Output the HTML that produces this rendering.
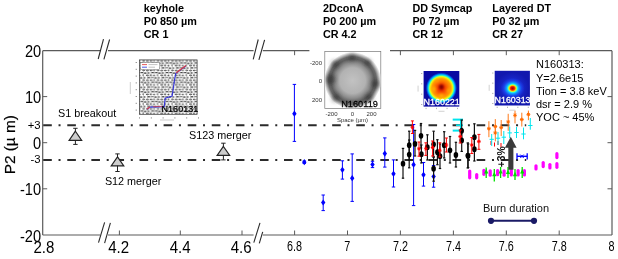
<!DOCTYPE html>
<html><head><meta charset="utf-8"><title>P2 vs time</title>
<style>html,body{margin:0;padding:0;background:#fff;}svg{display:block;opacity:0.999;will-change:transform;font-family:"Liberation Sans",sans-serif;}</style>
</head><body>
<svg width="618" height="259" viewBox="0 0 618 259">
<rect width="618" height="259" fill="#fff"/>
<defs>
<pattern id="grid" width="14.4" height="9.6" patternUnits="userSpaceOnUse"><rect width="14.4" height="9.6" fill="#fff"/><rect x="-3.81" y="0.47" width="2.2" height="1.0" fill="#222"/><rect x="-0.21" y="0.46" width="1.6" height="1.0" fill="#111"/><rect x="3.39" y="0.18" width="2.6" height="1.2" fill="#333"/><rect x="6.99" y="0.26" width="2.6" height="0.9" fill="#555"/><rect x="10.59" y="0.45" width="2.2" height="1.2" fill="#333"/><rect x="14.19" y="0.37" width="2.6" height="0.9" fill="#111"/><rect x="17.79" y="0.22" width="2.2" height="0.9" fill="#111"/><rect x="-1.54" y="2.74" width="2.6" height="1.0" fill="#555"/><rect x="2.06" y="2.79" width="2.6" height="1.2" fill="#555"/><rect x="5.66" y="2.85" width="2.6" height="0.9" fill="#333"/><rect x="9.26" y="2.70" width="1.6" height="1.0" fill="#333"/><rect x="12.86" y="2.67" width="2.6" height="1.0" fill="#222"/><rect x="16.46" y="2.73" width="2.6" height="1.0" fill="#555"/><rect x="-3.45" y="5.30" width="1.6" height="1.2" fill="#222"/><rect x="0.15" y="5.29" width="2.2" height="1.2" fill="#222"/><rect x="3.75" y="5.15" width="1.6" height="1.2" fill="#333"/><rect x="7.35" y="4.95" width="2.6" height="1.0" fill="#222"/><rect x="10.95" y="5.04" width="2.6" height="0.9" fill="#111"/><rect x="14.55" y="4.91" width="2.6" height="1.0" fill="#333"/><rect x="-1.58" y="7.54" width="1.6" height="0.9" fill="#111"/><rect x="2.02" y="7.52" width="2.6" height="1.0" fill="#222"/><rect x="5.62" y="7.42" width="2.2" height="0.9" fill="#111"/><rect x="9.22" y="7.68" width="1.6" height="1.0" fill="#111"/><rect x="12.82" y="7.36" width="2.6" height="0.9" fill="#222"/><rect x="16.42" y="7.44" width="2.6" height="0.9" fill="#222"/><rect x="2.95" y="0" width="0.5" height="9.6" fill="#999"/><rect x="6.55" y="0" width="0.5" height="9.6" fill="#999"/><rect x="10.15" y="0" width="0.5" height="9.6" fill="#999"/><rect x="13.75" y="0" width="0.5" height="9.6" fill="#999"/></pattern>
<clipPath id="c2d"><rect x="325.2" y="52" width="55.2" height="56.2"/></clipPath>
<filter id="bl" x="-50%" y="-50%" width="200%" height="200%"><feGaussianBlur stdDeviation="2.2"/></filter><radialGradient id="g2d"><stop offset="0" stop-color="#c2c2c2"/><stop offset="0.45" stop-color="#b2b2b2"/><stop offset="0.62" stop-color="#8c8c8c"/><stop offset="0.76" stop-color="#5e5e5e"/><stop offset="0.84" stop-color="#6a6a6a"/><stop offset="0.93" stop-color="#c0c0c0"/><stop offset="1" stop-color="#fff"/></radialGradient>
<filter id="bl2" x="-50%" y="-50%" width="200%" height="200%"><feGaussianBlur stdDeviation="1.1"/></filter><radialGradient id="gdd"><stop offset="0" stop-color="#c01000"/><stop offset="0.2" stop-color="#f03800"/><stop offset="0.45" stop-color="#ff7800"/><stop offset="0.6" stop-color="#ff9c00"/><stop offset="0.68" stop-color="#ffd000"/><stop offset="0.74" stop-color="#e0ff20"/><stop offset="0.79" stop-color="#60ff90"/><stop offset="0.85" stop-color="#00d0ff"/><stop offset="0.93" stop-color="#0050e0"/><stop offset="1" stop-color="#0909a2"/></radialGradient>
<radialGradient id="gdt0"><stop offset="0" stop-color="#1a30e0"/><stop offset="0.5" stop-color="#1828cc"/><stop offset="1" stop-color="#1218ae"/></radialGradient><radialGradient id="gdt"><stop offset="0" stop-color="#a00000"/><stop offset="0.12" stop-color="#d81000"/><stop offset="0.2" stop-color="#ff4000"/><stop offset="0.27" stop-color="#ffd000"/><stop offset="0.33" stop-color="#b0ff50"/><stop offset="0.4" stop-color="#20f0e8"/><stop offset="0.5" stop-color="#10a0ff"/><stop offset="0.7" stop-color="#1a48ec"/><stop offset="1" stop-color="#1a30e0" stop-opacity="0"/></radialGradient>
</defs>
<line x1="42.7" y1="50.7" x2="100.2" y2="50.7" stroke="#5a5a5a" stroke-width="1.2" />
<line x1="108.0" y1="50.7" x2="253.6" y2="50.7" stroke="#5a5a5a" stroke-width="1.2" />
<line x1="262.8" y1="50.7" x2="612.0" y2="50.7" stroke="#5a5a5a" stroke-width="1.2" />
<line x1="42.7" y1="235.0" x2="100.2" y2="235.0" stroke="#5a5a5a" stroke-width="1.2" />
<line x1="108.0" y1="235.0" x2="253.6" y2="235.0" stroke="#5a5a5a" stroke-width="1.2" />
<line x1="262.8" y1="235.0" x2="612.0" y2="235.0" stroke="#5a5a5a" stroke-width="1.2" />
<line x1="42.7" y1="50.7" x2="42.7" y2="235.0" stroke="#5a5a5a" stroke-width="1.2" />
<line x1="612.0" y1="50.7" x2="612.0" y2="235.0" stroke="#5a5a5a" stroke-width="1.2" />
<line x1="98.2" y1="59.0" x2="103.5" y2="39.1" stroke="#2a2a2a" stroke-width="1.1" />
<line x1="103.9" y1="59.4" x2="109.6" y2="39.5" stroke="#2a2a2a" stroke-width="1.1" />
<line x1="253.2" y1="59.4" x2="258.2" y2="39.5" stroke="#2a2a2a" stroke-width="1.1" />
<line x1="258.9" y1="59.8" x2="264.6" y2="39.8" stroke="#2a2a2a" stroke-width="1.1" />
<line x1="98.5" y1="242.7" x2="104.6" y2="222.4" stroke="#2a2a2a" stroke-width="1.1" />
<line x1="104.6" y1="243.1" x2="110.4" y2="222.8" stroke="#2a2a2a" stroke-width="1.1" />
<line x1="253.8" y1="242.7" x2="260.0" y2="222.8" stroke="#2a2a2a" stroke-width="1.1" />
<line x1="259.3" y1="243.4" x2="262.7" y2="231.9" stroke="#2a2a2a" stroke-width="1.1" />
<line x1="119.4" y1="235.0" x2="119.4" y2="230.5" stroke="#5a5a5a" stroke-width="1" />
<line x1="180.3" y1="235.0" x2="180.3" y2="230.5" stroke="#5a5a5a" stroke-width="1" />
<line x1="242.0" y1="235.0" x2="242.0" y2="230.5" stroke="#5a5a5a" stroke-width="1" />
<line x1="294.6" y1="235.0" x2="294.6" y2="230.5" stroke="#5a5a5a" stroke-width="1" />
<line x1="347.5" y1="235.0" x2="347.5" y2="230.5" stroke="#5a5a5a" stroke-width="1" />
<line x1="400.4" y1="235.0" x2="400.4" y2="230.5" stroke="#5a5a5a" stroke-width="1" />
<line x1="453.4" y1="235.0" x2="453.4" y2="230.5" stroke="#5a5a5a" stroke-width="1" />
<line x1="506.3" y1="235.0" x2="506.3" y2="230.5" stroke="#5a5a5a" stroke-width="1" />
<line x1="559.2" y1="235.0" x2="559.2" y2="230.5" stroke="#5a5a5a" stroke-width="1" />
<line x1="294.6" y1="50.7" x2="294.6" y2="55.2" stroke="#5a5a5a" stroke-width="1" />
<line x1="347.5" y1="50.7" x2="347.5" y2="55.2" stroke="#5a5a5a" stroke-width="1" />
<line x1="400.4" y1="50.7" x2="400.4" y2="55.2" stroke="#5a5a5a" stroke-width="1" />
<line x1="453.4" y1="50.7" x2="453.4" y2="55.2" stroke="#5a5a5a" stroke-width="1" />
<line x1="506.3" y1="50.7" x2="506.3" y2="55.2" stroke="#5a5a5a" stroke-width="1" />
<line x1="559.2" y1="50.7" x2="559.2" y2="55.2" stroke="#5a5a5a" stroke-width="1" />
<line x1="42.7" y1="96.6" x2="47.2" y2="96.6" stroke="#5a5a5a" stroke-width="1" />
<line x1="612.0" y1="96.6" x2="607.5" y2="96.6" stroke="#5a5a5a" stroke-width="1" />
<line x1="42.7" y1="142.7" x2="47.2" y2="142.7" stroke="#5a5a5a" stroke-width="1" />
<line x1="612.0" y1="142.7" x2="607.5" y2="142.7" stroke="#5a5a5a" stroke-width="1" />
<line x1="42.7" y1="188.8" x2="47.2" y2="188.8" stroke="#5a5a5a" stroke-width="1" />
<line x1="612.0" y1="188.8" x2="607.5" y2="188.8" stroke="#5a5a5a" stroke-width="1" />
<line x1="43.2" y1="125.2" x2="526.2" y2="125.2" stroke="#2b2b2b" stroke-width="2.0" stroke-dasharray="8.6 6.74 2 6.74"/>
<line x1="43.2" y1="160.0" x2="526.2" y2="160.0" stroke="#2b2b2b" stroke-width="2.0" stroke-dasharray="8.6 6.74 2 6.74"/>
<line x1="75.4" y1="128.3" x2="75.4" y2="144.4" stroke="#222" stroke-width="1" />
<line x1="73.2" y1="128.3" x2="77.6" y2="128.3" stroke="#222" stroke-width="1" />
<line x1="73.2" y1="144.4" x2="77.6" y2="144.4" stroke="#222" stroke-width="1" />
<polygon points="75.4,131.2 69.10000000000001,140.3 81.7,140.3" fill="#cdcdcd" stroke="#222" stroke-width="1.15"/>
<line x1="117.5" y1="153.9" x2="117.5" y2="171.5" stroke="#222" stroke-width="1" />
<line x1="115.3" y1="153.9" x2="119.7" y2="153.9" stroke="#222" stroke-width="1" />
<line x1="115.3" y1="171.5" x2="119.7" y2="171.5" stroke="#222" stroke-width="1" />
<polygon points="117.5,156.8 111.2,165.8 123.8,165.8" fill="#cdcdcd" stroke="#222" stroke-width="1.15"/>
<line x1="223.4" y1="143.2" x2="223.4" y2="159.9" stroke="#222" stroke-width="1" />
<line x1="221.2" y1="143.2" x2="225.6" y2="143.2" stroke="#222" stroke-width="1" />
<line x1="221.2" y1="159.9" x2="225.6" y2="159.9" stroke="#222" stroke-width="1" />
<polygon points="223.4,146.4 217.1,155.4 229.70000000000002,155.4" fill="#cdcdcd" stroke="#222" stroke-width="1.15"/>
<line x1="294.4" y1="84.4" x2="294.4" y2="141.4" stroke="#0000ff" stroke-width="1" />
<line x1="292.7" y1="84.4" x2="296.1" y2="84.4" stroke="#0000ff" stroke-width="1" />
<line x1="292.7" y1="141.4" x2="296.1" y2="141.4" stroke="#0000ff" stroke-width="1" />
<polygon points="294.4,110.60000000000001 296.59999999999997,113.7 294.4,116.8 292.2,113.7" fill="#0000ff"/>
<line x1="304.3" y1="161.0" x2="304.3" y2="163.4" stroke="#0000ff" stroke-width="1" />
<line x1="302.6" y1="161.0" x2="306.0" y2="161.0" stroke="#0000ff" stroke-width="1" />
<line x1="302.6" y1="163.4" x2="306.0" y2="163.4" stroke="#0000ff" stroke-width="1" />
<polygon points="304.3,159.1 306.5,162.2 304.3,165.29999999999998 302.1,162.2" fill="#0000ff"/>
<line x1="323.2" y1="195.0" x2="323.2" y2="210.6" stroke="#0000ff" stroke-width="1" />
<line x1="321.5" y1="195.0" x2="324.9" y2="195.0" stroke="#0000ff" stroke-width="1" />
<line x1="321.5" y1="210.6" x2="324.9" y2="210.6" stroke="#0000ff" stroke-width="1" />
<polygon points="323.2,199.4 325.4,202.5 323.2,205.6 321.0,202.5" fill="#0000ff"/>
<line x1="342.4" y1="160.8" x2="342.4" y2="179.1" stroke="#0000ff" stroke-width="1" />
<line x1="340.7" y1="160.8" x2="344.1" y2="160.8" stroke="#0000ff" stroke-width="1" />
<line x1="340.7" y1="179.1" x2="344.1" y2="179.1" stroke="#0000ff" stroke-width="1" />
<polygon points="342.4,166.70000000000002 344.59999999999997,169.8 342.4,172.9 340.2,169.8" fill="#0000ff"/>
<line x1="352.2" y1="153.9" x2="352.2" y2="201.4" stroke="#0000ff" stroke-width="1" />
<line x1="350.5" y1="153.9" x2="353.9" y2="153.9" stroke="#0000ff" stroke-width="1" />
<line x1="350.5" y1="201.4" x2="353.9" y2="201.4" stroke="#0000ff" stroke-width="1" />
<polygon points="352.2,175.1 354.4,178.2 352.2,181.29999999999998 350.0,178.2" fill="#0000ff"/>
<line x1="372.5" y1="161.3" x2="372.5" y2="167.6" stroke="#0000ff" stroke-width="1" />
<line x1="370.8" y1="161.3" x2="374.2" y2="161.3" stroke="#0000ff" stroke-width="1" />
<line x1="370.8" y1="167.6" x2="374.2" y2="167.6" stroke="#0000ff" stroke-width="1" />
<polygon points="372.5,161.4 374.7,164.5 372.5,167.6 370.3,164.5" fill="#0000ff"/>
<line x1="384.8" y1="137.9" x2="384.8" y2="167.1" stroke="#0000ff" stroke-width="1" />
<line x1="383.1" y1="137.9" x2="386.5" y2="137.9" stroke="#0000ff" stroke-width="1" />
<line x1="383.1" y1="167.1" x2="386.5" y2="167.1" stroke="#0000ff" stroke-width="1" />
<polygon points="384.8,150.5 387.0,153.6 384.8,156.7 382.6,153.6" fill="#0000ff"/>
<line x1="393.5" y1="159.9" x2="393.5" y2="187.0" stroke="#0000ff" stroke-width="1" />
<line x1="391.8" y1="159.9" x2="395.2" y2="159.9" stroke="#0000ff" stroke-width="1" />
<line x1="391.8" y1="187.0" x2="395.2" y2="187.0" stroke="#0000ff" stroke-width="1" />
<polygon points="393.5,170.70000000000002 395.7,173.8 393.5,176.9 391.3,173.8" fill="#0000ff"/>
<line x1="413.6" y1="124.5" x2="413.6" y2="205.6" stroke="#0000ff" stroke-width="1" />
<line x1="411.9" y1="124.5" x2="415.3" y2="124.5" stroke="#0000ff" stroke-width="1" />
<line x1="411.9" y1="205.6" x2="415.3" y2="205.6" stroke="#0000ff" stroke-width="1" />
<polygon points="413.6,161.6 415.8,164.7 413.6,167.79999999999998 411.40000000000003,164.7" fill="#0000ff"/>
<line x1="423.5" y1="162.5" x2="423.5" y2="186.1" stroke="#0000ff" stroke-width="1" />
<line x1="421.8" y1="162.5" x2="425.2" y2="162.5" stroke="#0000ff" stroke-width="1" />
<line x1="421.8" y1="186.1" x2="425.2" y2="186.1" stroke="#0000ff" stroke-width="1" />
<polygon points="423.5,171.70000000000002 425.7,174.8 423.5,177.9 421.3,174.8" fill="#0000ff"/>
<line x1="433.6" y1="165.5" x2="433.6" y2="187.2" stroke="#0000ff" stroke-width="1" />
<line x1="431.9" y1="165.5" x2="435.3" y2="165.5" stroke="#0000ff" stroke-width="1" />
<line x1="431.9" y1="187.2" x2="435.3" y2="187.2" stroke="#0000ff" stroke-width="1" />
<polygon points="433.6,173.4 435.8,176.5 433.6,179.6 431.40000000000003,176.5" fill="#0000ff"/>
<line x1="452.7" y1="119.6" x2="463.0" y2="119.6" stroke="#00e5ee" stroke-width="2" />
<line x1="452.7" y1="130.6" x2="463.0" y2="130.6" stroke="#00e5ee" stroke-width="2" />
<line x1="456.0" y1="125.2" x2="463.0" y2="125.2" stroke="#00e5ee" stroke-width="1.6" />
<line x1="460.6" y1="119.6" x2="460.6" y2="130.6" stroke="#00e5ee" stroke-width="1.2" />
<line x1="403.0" y1="148.4" x2="403.0" y2="178.2" stroke="#111" stroke-width="1.2" />
<line x1="401.8" y1="148.4" x2="404.2" y2="148.4" stroke="#111" stroke-width="1.2" />
<line x1="401.8" y1="178.2" x2="404.2" y2="178.2" stroke="#111" stroke-width="1.2" />
<line x1="409.2" y1="131.2" x2="409.2" y2="160.0" stroke="#111" stroke-width="1.2" />
<line x1="408.0" y1="131.2" x2="410.4" y2="131.2" stroke="#111" stroke-width="1.2" />
<line x1="408.0" y1="160.0" x2="410.4" y2="160.0" stroke="#111" stroke-width="1.2" />
<line x1="409.2" y1="140.0" x2="409.2" y2="167.8" stroke="#111" stroke-width="1.2" />
<line x1="408.0" y1="140.0" x2="410.4" y2="140.0" stroke="#111" stroke-width="1.2" />
<line x1="408.0" y1="167.8" x2="410.4" y2="167.8" stroke="#111" stroke-width="1.2" />
<line x1="415.0" y1="130.4" x2="415.0" y2="156.0" stroke="#111" stroke-width="1.2" />
<line x1="413.8" y1="130.4" x2="416.2" y2="130.4" stroke="#111" stroke-width="1.2" />
<line x1="413.8" y1="156.0" x2="416.2" y2="156.0" stroke="#111" stroke-width="1.2" />
<line x1="421.0" y1="123.5" x2="421.0" y2="148.0" stroke="#111" stroke-width="1.2" />
<line x1="419.8" y1="123.5" x2="422.2" y2="123.5" stroke="#111" stroke-width="1.2" />
<line x1="419.8" y1="148.0" x2="422.2" y2="148.0" stroke="#111" stroke-width="1.2" />
<line x1="421.4" y1="145.0" x2="421.4" y2="163.0" stroke="#111" stroke-width="1.2" />
<line x1="420.2" y1="145.0" x2="422.6" y2="145.0" stroke="#111" stroke-width="1.2" />
<line x1="420.2" y1="163.0" x2="422.6" y2="163.0" stroke="#111" stroke-width="1.2" />
<line x1="427.4" y1="134.8" x2="427.4" y2="160.0" stroke="#111" stroke-width="1.2" />
<line x1="426.2" y1="134.8" x2="428.6" y2="134.8" stroke="#111" stroke-width="1.2" />
<line x1="426.2" y1="160.0" x2="428.6" y2="160.0" stroke="#111" stroke-width="1.2" />
<line x1="433.6" y1="131.2" x2="433.6" y2="157.0" stroke="#111" stroke-width="1.2" />
<line x1="432.4" y1="131.2" x2="434.8" y2="131.2" stroke="#111" stroke-width="1.2" />
<line x1="432.4" y1="157.0" x2="434.8" y2="157.0" stroke="#111" stroke-width="1.2" />
<line x1="433.6" y1="157.0" x2="433.6" y2="181.2" stroke="#111" stroke-width="1.2" />
<line x1="432.4" y1="157.0" x2="434.8" y2="157.0" stroke="#111" stroke-width="1.2" />
<line x1="432.4" y1="181.2" x2="434.8" y2="181.2" stroke="#111" stroke-width="1.2" />
<line x1="437.4" y1="139.7" x2="437.4" y2="164.7" stroke="#111" stroke-width="1.2" />
<line x1="436.2" y1="139.7" x2="438.6" y2="139.7" stroke="#111" stroke-width="1.2" />
<line x1="436.2" y1="164.7" x2="438.6" y2="164.7" stroke="#111" stroke-width="1.2" />
<line x1="440.0" y1="144.0" x2="440.0" y2="168.5" stroke="#111" stroke-width="1.2" />
<line x1="438.8" y1="144.0" x2="441.2" y2="144.0" stroke="#111" stroke-width="1.2" />
<line x1="438.8" y1="168.5" x2="441.2" y2="168.5" stroke="#111" stroke-width="1.2" />
<line x1="444.2" y1="131.7" x2="444.2" y2="158.0" stroke="#111" stroke-width="1.2" />
<line x1="443.0" y1="131.7" x2="445.4" y2="131.7" stroke="#111" stroke-width="1.2" />
<line x1="443.0" y1="158.0" x2="445.4" y2="158.0" stroke="#111" stroke-width="1.2" />
<line x1="450.0" y1="136.5" x2="450.0" y2="163.0" stroke="#111" stroke-width="1.2" />
<line x1="448.8" y1="136.5" x2="451.2" y2="136.5" stroke="#111" stroke-width="1.2" />
<line x1="448.8" y1="163.0" x2="451.2" y2="163.0" stroke="#111" stroke-width="1.2" />
<line x1="455.9" y1="142.3" x2="455.9" y2="167.0" stroke="#111" stroke-width="1.2" />
<line x1="454.7" y1="142.3" x2="457.1" y2="142.3" stroke="#111" stroke-width="1.2" />
<line x1="454.7" y1="167.0" x2="457.1" y2="167.0" stroke="#111" stroke-width="1.2" />
<line x1="461.7" y1="120.0" x2="461.7" y2="142.0" stroke="#111" stroke-width="1.2" />
<line x1="460.5" y1="120.0" x2="462.9" y2="120.0" stroke="#111" stroke-width="1.2" />
<line x1="460.5" y1="142.0" x2="462.9" y2="142.0" stroke="#111" stroke-width="1.2" />
<line x1="461.7" y1="129.0" x2="461.7" y2="151.4" stroke="#111" stroke-width="1.2" />
<line x1="460.5" y1="129.0" x2="462.9" y2="129.0" stroke="#111" stroke-width="1.2" />
<line x1="460.5" y1="151.4" x2="462.9" y2="151.4" stroke="#111" stroke-width="1.2" />
<line x1="467.8" y1="142.9" x2="467.8" y2="168.0" stroke="#111" stroke-width="1.2" />
<line x1="466.6" y1="142.9" x2="469.0" y2="142.9" stroke="#111" stroke-width="1.2" />
<line x1="466.6" y1="168.0" x2="469.0" y2="168.0" stroke="#111" stroke-width="1.2" />
<line x1="474.4" y1="123.8" x2="474.4" y2="150.0" stroke="#111" stroke-width="1.2" />
<line x1="473.2" y1="123.8" x2="475.6" y2="123.8" stroke="#111" stroke-width="1.2" />
<line x1="473.2" y1="150.0" x2="475.6" y2="150.0" stroke="#111" stroke-width="1.2" />
<line x1="474.4" y1="137.0" x2="474.4" y2="161.0" stroke="#111" stroke-width="1.2" />
<line x1="473.2" y1="137.0" x2="475.6" y2="137.0" stroke="#111" stroke-width="1.2" />
<line x1="473.2" y1="161.0" x2="475.6" y2="161.0" stroke="#111" stroke-width="1.2" />
<line x1="468.1" y1="144.0" x2="468.1" y2="167.5" stroke="#111" stroke-width="1.2" />
<line x1="466.9" y1="144.0" x2="469.3" y2="144.0" stroke="#111" stroke-width="1.2" />
<line x1="466.9" y1="167.5" x2="469.3" y2="167.5" stroke="#111" stroke-width="1.2" />
<ellipse cx="403" cy="163.7" rx="2.28" ry="2.88" fill="#000"/>
<ellipse cx="409.2" cy="145.2" rx="2.28" ry="2.88" fill="#000"/>
<ellipse cx="409.2" cy="154.6" rx="2.28" ry="2.88" fill="#000"/>
<ellipse cx="415" cy="143.9" rx="2.28" ry="2.88" fill="#000"/>
<ellipse cx="421" cy="135.8" rx="2.28" ry="2.88" fill="#000"/>
<ellipse cx="421.4" cy="154.2" rx="2.28" ry="2.88" fill="#000"/>
<ellipse cx="427.4" cy="147.2" rx="2.28" ry="2.88" fill="#000"/>
<ellipse cx="433.6" cy="144.3" rx="2.28" ry="2.88" fill="#000"/>
<ellipse cx="433.6" cy="168.7" rx="2.28" ry="2.88" fill="#000"/>
<ellipse cx="437.4" cy="152.2" rx="2.28" ry="2.88" fill="#000"/>
<ellipse cx="440" cy="156.2" rx="2.28" ry="2.88" fill="#000"/>
<ellipse cx="444.2" cy="145.2" rx="2.28" ry="2.88" fill="#000"/>
<ellipse cx="450" cy="150.3" rx="2.28" ry="2.88" fill="#000"/>
<ellipse cx="455.9" cy="155" rx="2.28" ry="2.88" fill="#000"/>
<ellipse cx="461.7" cy="130.8" rx="2.28" ry="2.88" fill="#000"/>
<ellipse cx="461.7" cy="140.4" rx="2.28" ry="2.88" fill="#000"/>
<ellipse cx="467.8" cy="155.6" rx="2.28" ry="2.88" fill="#000"/>
<ellipse cx="474.4" cy="137.2" rx="2.28" ry="2.88" fill="#000"/>
<ellipse cx="474.4" cy="149.2" rx="2.28" ry="2.88" fill="#000"/>
<ellipse cx="468.1" cy="155.9" rx="2.28" ry="2.88" fill="#000"/>
<line x1="412.4" y1="120.9" x2="412.4" y2="133.5" stroke="#ff0000" stroke-width="1" />
<line x1="410.9" y1="120.9" x2="413.9" y2="120.9" stroke="#ff0000" stroke-width="1" />
<line x1="410.9" y1="133.5" x2="413.9" y2="133.5" stroke="#ff0000" stroke-width="1" />
<path d="M410.59999999999997,127.3H414.2M412.4,125.5V129.1M411.14,126.03999999999999L413.65999999999997,128.56M411.14,128.56L413.65999999999997,126.03999999999999" stroke="#ff0000" stroke-width="1" fill="none"/>
<line x1="419.0" y1="142.0" x2="419.0" y2="156.2" stroke="#ff0000" stroke-width="1" />
<line x1="417.5" y1="142.0" x2="420.5" y2="142.0" stroke="#ff0000" stroke-width="1" />
<line x1="417.5" y1="156.2" x2="420.5" y2="156.2" stroke="#ff0000" stroke-width="1" />
<path d="M417.2,148.8H420.8M419,147.0V150.60000000000002M417.74,147.54000000000002L420.26,150.06M417.74,150.06L420.26,147.54000000000002" stroke="#ff0000" stroke-width="1" fill="none"/>
<line x1="425.9" y1="142.8" x2="425.9" y2="155.4" stroke="#ff0000" stroke-width="1" />
<line x1="424.4" y1="142.8" x2="427.4" y2="142.8" stroke="#ff0000" stroke-width="1" />
<line x1="424.4" y1="155.4" x2="427.4" y2="155.4" stroke="#ff0000" stroke-width="1" />
<path d="M424.09999999999997,148.7H427.7M425.9,146.89999999999998V150.5M424.64,147.44L427.15999999999997,149.95999999999998M424.64,149.95999999999998L427.15999999999997,147.44" stroke="#ff0000" stroke-width="1" fill="none"/>
<line x1="432.6" y1="141.0" x2="432.6" y2="156.0" stroke="#ff0000" stroke-width="1" />
<line x1="431.1" y1="141.0" x2="434.1" y2="141.0" stroke="#ff0000" stroke-width="1" />
<line x1="431.1" y1="156.0" x2="434.1" y2="156.0" stroke="#ff0000" stroke-width="1" />
<path d="M430.8,147.5H434.40000000000003M432.6,145.7V149.3M431.34000000000003,146.24L433.86,148.76M431.34000000000003,148.76L433.86,146.24" stroke="#ff0000" stroke-width="1" fill="none"/>
<line x1="439.8" y1="142.8" x2="439.8" y2="157.0" stroke="#ff0000" stroke-width="1" />
<line x1="438.3" y1="142.8" x2="441.3" y2="142.8" stroke="#ff0000" stroke-width="1" />
<line x1="438.3" y1="157.0" x2="441.3" y2="157.0" stroke="#ff0000" stroke-width="1" />
<path d="M438.0,150.2H441.6M439.8,148.39999999999998V152.0M438.54,148.94L441.06,151.45999999999998M438.54,151.45999999999998L441.06,148.94" stroke="#ff0000" stroke-width="1" fill="none"/>
<line x1="446.4" y1="138.0" x2="446.4" y2="152.0" stroke="#ff0000" stroke-width="1" />
<line x1="444.9" y1="138.0" x2="447.9" y2="138.0" stroke="#ff0000" stroke-width="1" />
<line x1="444.9" y1="152.0" x2="447.9" y2="152.0" stroke="#ff0000" stroke-width="1" />
<path d="M444.59999999999997,145H448.2M446.4,143.2V146.8M445.14,143.74L447.65999999999997,146.26M445.14,146.26L447.65999999999997,143.74" stroke="#ff0000" stroke-width="1" fill="none"/>
<line x1="460.2" y1="130.0" x2="460.2" y2="143.0" stroke="#ff0000" stroke-width="1" />
<line x1="458.7" y1="130.0" x2="461.7" y2="130.0" stroke="#ff0000" stroke-width="1" />
<line x1="458.7" y1="143.0" x2="461.7" y2="143.0" stroke="#ff0000" stroke-width="1" />
<path d="M458.4,136.5H462.0M460.2,134.7V138.3M458.94,135.24L461.46,137.76M458.94,137.76L461.46,135.24" stroke="#ff0000" stroke-width="1" fill="none"/>
<line x1="471.8" y1="137.6" x2="471.8" y2="153.5" stroke="#ff0000" stroke-width="1" />
<line x1="470.3" y1="137.6" x2="473.3" y2="137.6" stroke="#ff0000" stroke-width="1" />
<line x1="470.3" y1="153.5" x2="473.3" y2="153.5" stroke="#ff0000" stroke-width="1" />
<path d="M470.0,145H473.6M471.8,143.2V146.8M470.54,143.74L473.06,146.26M470.54,146.26L473.06,143.74" stroke="#ff0000" stroke-width="1" fill="none"/>
<line x1="478.9" y1="134.4" x2="478.9" y2="149.3" stroke="#ff0000" stroke-width="1" />
<line x1="477.4" y1="134.4" x2="480.4" y2="134.4" stroke="#ff0000" stroke-width="1" />
<line x1="477.4" y1="149.3" x2="480.4" y2="149.3" stroke="#ff0000" stroke-width="1" />
<path d="M477.09999999999997,141.4H480.7M478.9,139.6V143.20000000000002M477.64,140.14000000000001L480.15999999999997,142.66M477.64,142.66L480.15999999999997,140.14000000000001" stroke="#ff0000" stroke-width="1" fill="none"/>
<line x1="491.0" y1="141.0" x2="491.0" y2="145.0" stroke="#ff0000" stroke-width="1" />
<line x1="494.5" y1="142.5" x2="494.5" y2="146.5" stroke="#ff0000" stroke-width="1" />
<line x1="498.0" y1="141.0" x2="498.0" y2="145.0" stroke="#ff0000" stroke-width="1" />
<line x1="501.0" y1="143.0" x2="501.0" y2="147.0" stroke="#ff0000" stroke-width="1" />
<line x1="488.9" y1="121.2" x2="488.9" y2="137.2" stroke="#ff7a1a" stroke-width="1" />
<path d="M487.0,128.7H490.79999999999995M488.9,126.79999999999998V130.6M487.57,127.36999999999999L490.22999999999996,130.03M487.57,130.03L490.22999999999996,127.36999999999999" stroke="#ff6a00" stroke-width="1" fill="none"/>
<line x1="495.3" y1="119.1" x2="495.3" y2="134.0" stroke="#ff7a1a" stroke-width="1" />
<path d="M493.40000000000003,126.5H497.2M495.3,124.6V128.4M493.97,125.17L496.63,127.83M493.97,127.83L496.63,125.17" stroke="#ff6a00" stroke-width="1" fill="none"/>
<line x1="495.3" y1="126.0" x2="495.3" y2="141.4" stroke="#ff7a1a" stroke-width="1" />
<path d="M493.40000000000003,132.9H497.2M495.3,131.0V134.8M493.97,131.57L496.63,134.23000000000002M493.97,134.23000000000002L496.63,131.57" stroke="#ff6a00" stroke-width="1" fill="none"/>
<line x1="501.2" y1="120.0" x2="501.2" y2="136.0" stroke="#ff7a1a" stroke-width="1" />
<path d="M499.3,127.6H503.09999999999997M501.2,125.69999999999999V129.5M499.87,126.27L502.53,128.93M499.87,128.93L502.53,126.27" stroke="#ff6a00" stroke-width="1" fill="none"/>
<line x1="508.2" y1="113.8" x2="508.2" y2="130.8" stroke="#ff7a1a" stroke-width="1" />
<path d="M506.3,121.9H510.09999999999997M508.2,120.0V123.80000000000001M506.87,120.57000000000001L509.53,123.23M506.87,123.23L509.53,120.57000000000001" stroke="#ff6a00" stroke-width="1" fill="none"/>
<line x1="515.0" y1="110.6" x2="515.0" y2="123.4" stroke="#ff7a1a" stroke-width="1" />
<path d="M513.1,115.3H516.9M515,113.39999999999999V117.2M513.67,113.97L516.33,116.63M513.67,116.63L516.33,113.97" stroke="#ff6a00" stroke-width="1" fill="none"/>
<line x1="521.8" y1="112.7" x2="521.8" y2="126.5" stroke="#ff7a1a" stroke-width="1" />
<path d="M519.9,119.5H523.6999999999999M521.8,117.6V121.4M520.4699999999999,118.17L523.13,120.83M520.4699999999999,120.83L523.13,118.17" stroke="#ff6a00" stroke-width="1" fill="none"/>
<line x1="528.4" y1="110.6" x2="528.4" y2="120.2" stroke="#ff7a1a" stroke-width="1" />
<path d="M526.5,114.4H530.3M528.4,112.5V116.30000000000001M527.0699999999999,113.07000000000001L529.73,115.73M527.0699999999999,115.73L529.73,113.07000000000001" stroke="#ff6a00" stroke-width="1" fill="none"/>
<line x1="491.7" y1="134.0" x2="491.7" y2="146.0" stroke="#00e5ee" stroke-width="1" />
<line x1="489.5" y1="139.3" x2="493.9" y2="139.3" stroke="#00e5ee" stroke-width="1" />
<line x1="498.0" y1="132.0" x2="498.0" y2="145.0" stroke="#00e5ee" stroke-width="1" />
<line x1="495.8" y1="138.2" x2="500.2" y2="138.2" stroke="#00e5ee" stroke-width="1" />
<line x1="503.8" y1="131.0" x2="503.8" y2="144.0" stroke="#00e5ee" stroke-width="1" />
<line x1="501.6" y1="137.2" x2="506.0" y2="137.2" stroke="#00e5ee" stroke-width="1" />
<line x1="509.7" y1="126.5" x2="509.7" y2="138.2" stroke="#00e5ee" stroke-width="1" />
<line x1="507.5" y1="132.9" x2="511.9" y2="132.9" stroke="#00e5ee" stroke-width="1" />
<line x1="516.5" y1="127.0" x2="516.5" y2="138.0" stroke="#00e5ee" stroke-width="1" />
<line x1="514.3" y1="132.5" x2="518.7" y2="132.5" stroke="#00e5ee" stroke-width="1" />
<line x1="523.5" y1="127.6" x2="523.5" y2="139.3" stroke="#00e5ee" stroke-width="1" />
<line x1="521.3" y1="134.0" x2="525.7" y2="134.0" stroke="#00e5ee" stroke-width="1" />
<line x1="530.3" y1="118.0" x2="530.3" y2="129.7" stroke="#00e5ee" stroke-width="1" />
<line x1="528.1" y1="125.5" x2="532.5" y2="125.5" stroke="#00e5ee" stroke-width="1" />
<line x1="469.7" y1="171.10000000000002" x2="469.7" y2="177.79999999999998" stroke="#ff00ff" stroke-width="3.2" stroke-linecap="round"/>
<line x1="476.7" y1="174.60000000000002" x2="476.7" y2="177.79999999999998" stroke="#ff00ff" stroke-width="3.2" stroke-linecap="round"/>
<line x1="483.9" y1="170.4" x2="483.9" y2="174.29999999999998" stroke="#ff00ff" stroke-width="3.2" stroke-linecap="round"/>
<line x1="490.2" y1="170.8" x2="490.2" y2="175.2" stroke="#ff00ff" stroke-width="3.2" stroke-linecap="round"/>
<line x1="497.6" y1="170.60000000000002" x2="497.6" y2="174.7" stroke="#ff00ff" stroke-width="3.2" stroke-linecap="round"/>
<line x1="504.1" y1="170.8" x2="504.1" y2="175.2" stroke="#ff00ff" stroke-width="3.2" stroke-linecap="round"/>
<line x1="511.3" y1="170.60000000000002" x2="511.3" y2="175.0" stroke="#ff00ff" stroke-width="3.2" stroke-linecap="round"/>
<line x1="518.1" y1="170.60000000000002" x2="518.1" y2="175.0" stroke="#ff00ff" stroke-width="3.2" stroke-linecap="round"/>
<line x1="524.4" y1="170.60000000000002" x2="524.4" y2="175.0" stroke="#ff00ff" stroke-width="3.2" stroke-linecap="round"/>
<line x1="536" y1="165.8" x2="536" y2="169.0" stroke="#ff00ff" stroke-width="3.2" stroke-linecap="round"/>
<line x1="543.2" y1="162.5" x2="543.2" y2="166.6" stroke="#ff00ff" stroke-width="3.2" stroke-linecap="round"/>
<line x1="549.9" y1="164.60000000000002" x2="549.9" y2="168.0" stroke="#ff00ff" stroke-width="3.2" stroke-linecap="round"/>
<line x1="556.9" y1="153.70000000000002" x2="556.9" y2="157.6" stroke="#ff00ff" stroke-width="3.2" stroke-linecap="round"/>
<line x1="556.9" y1="163.70000000000002" x2="556.9" y2="167.29999999999998" stroke="#ff00ff" stroke-width="3.2" stroke-linecap="round"/>
<line x1="486.2" y1="167.5" x2="486.2" y2="177.9" stroke="#00e000" stroke-width="1.3" />
<polygon points="486.2,169.1 484.09999999999997,173.5 488.3,173.5" fill="#00e000"/>
<line x1="494.3" y1="169.0" x2="494.3" y2="181.4" stroke="#00e000" stroke-width="1.3" />
<polygon points="494.3,171.8 492.2,176.20000000000002 496.40000000000003,176.20000000000002" fill="#00e000"/>
<line x1="500.6" y1="167.0" x2="500.6" y2="178.0" stroke="#00e000" stroke-width="1.3" />
<polygon points="500.6,169.1 498.5,173.5 502.70000000000005,173.5" fill="#00e000"/>
<line x1="508.0" y1="167.0" x2="508.0" y2="178.0" stroke="#00e000" stroke-width="1.3" />
<polygon points="508,169.5 505.9,173.9 510.1,173.9" fill="#00e000"/>
<line x1="515.0" y1="169.0" x2="515.0" y2="180.0" stroke="#00e000" stroke-width="1.3" />
<polygon points="515,171.8 512.9,176.20000000000002 517.1,176.20000000000002" fill="#00e000"/>
<line x1="522.2" y1="167.0" x2="522.2" y2="178.0" stroke="#00e000" stroke-width="1.3" />
<polygon points="522.2,169.1 520.1,173.5 524.3000000000001,173.5" fill="#00e000"/>
<line x1="517.0" y1="156.3" x2="527.2" y2="156.3" stroke="#0000ff" stroke-width="1.4" />
<line x1="517.0" y1="153.2" x2="517.0" y2="159.6" stroke="#0000ff" stroke-width="1.3" />
<line x1="527.2" y1="153.2" x2="527.2" y2="159.6" stroke="#0000ff" stroke-width="1.3" />
<path d="M520.3,154.6L523.7,158M520.3,158L523.7,154.6" stroke="#0000ff" stroke-width="1"/>
<polygon points="510.8,136.8 516.6,147.8 513.4,147.8 513.4,169.8 508.3,169.8 508.3,147.8 504.9,147.8" fill="#3a3a3a"/>
<text transform="translate(504.5,167.2) rotate(-90)" font-size="10.3" font-weight="bold" fill="#111">+3%</text>
<line x1="491" y1="220.8" x2="534" y2="220.8" stroke="#1a1a66" stroke-width="2"/>
<circle cx="491" cy="220.8" r="3.1" fill="#1a1a66"/><circle cx="534" cy="220.8" r="3.1" fill="#1a1a66"/>
<text x="483" y="212" font-size="11" fill="#111">Burn duration</text>
<rect x="128" y="53" width="78" height="68" fill="#fff"/>
<rect x="139.5" y="59.9" width="57.6" height="54.4" fill="url(#grid)" stroke="#333" stroke-width="0.7"/>
<rect x="140.6" y="62.6" width="19" height="6.6" fill="#fff" stroke="#555" stroke-width="0.4"/>
<line x1="142" y1="64.6" x2="147" y2="64.6" stroke="#e03030" stroke-width="0.8"/><line x1="142" y1="67.2" x2="147" y2="67.2" stroke="#2030e0" stroke-width="0.8"/>
<line x1="148.5" y1="64.6" x2="157.5" y2="64.6" stroke="#999" stroke-width="0.6"/><line x1="148.5" y1="67.2" x2="155" y2="67.2" stroke="#999" stroke-width="0.6"/>
<polyline points="146.9,109.2 149.9,107.2 164.2,106.7 165.2,98.1 172.1,96.1 174.6,79.5 175.8,73.3 185.7,65.9" fill="none" stroke="#3535d8" stroke-width="1.2"/>
<polyline points="146.9,109 149.9,107" fill="none" stroke="#e04040" stroke-width="1.1"/>
<polyline points="153,106.7 163,106.3" fill="none" stroke="#e04040" stroke-width="0.7"/>
<polyline points="176.2,72.8 185.9,65.5" fill="none" stroke="#e04040" stroke-width="1.1"/>
<text transform="translate(161.6,112.4) scale(0.93,1)" font-size="9.7" fill="#000" stroke="#000" stroke-width="0.25">N160131</text>
<rect x="135.6" y="62.0" width="1.4" height="1" fill="#999"/>
<rect x="135.6" y="68.8" width="1.4" height="1" fill="#999"/>
<rect x="135.6" y="75.6" width="1.4" height="1" fill="#999"/>
<rect x="135.6" y="82.4" width="1.4" height="1" fill="#999"/>
<rect x="135.6" y="89.2" width="1.4" height="1" fill="#999"/>
<rect x="135.6" y="96.0" width="1.4" height="1" fill="#999"/>
<rect x="135.6" y="102.8" width="1.4" height="1" fill="#999"/>
<rect x="135.6" y="109.6" width="1.4" height="1" fill="#999"/>
<rect x="139.0" y="117.2" width="1" height="1.4" fill="#999"/>
<rect x="150.8" y="117.2" width="1" height="1.4" fill="#999"/>
<rect x="162.6" y="117.2" width="1" height="1.4" fill="#999"/>
<rect x="174.4" y="117.2" width="1" height="1.4" fill="#999"/>
<rect x="186.2" y="117.2" width="1" height="1.4" fill="#999"/>
<rect x="198.0" y="117.2" width="1" height="1.4" fill="#999"/>
<rect x="129.8" y="82" width="1" height="12" fill="#ccc"/><rect x="160" y="119.5" width="14" height="1" fill="#ccc"/>
<rect x="309.4" y="44" width="80.6" height="78" fill="#fff"/>
<rect x="324.8" y="51.6" width="56" height="57" fill="#fff" stroke="#777" stroke-width="0.7"/>
<g clip-path="url(#c2d)"><circle cx="352.6" cy="80.6" r="28.5" fill="url(#g2d)"/>
<g filter="url(#bl)" fill="#222" opacity="0.55"><circle cx="330.5" cy="79.5" r="5"/><circle cx="335" cy="64" r="3.6"/><circle cx="352" cy="57.5" r="3.2"/><circle cx="375.5" cy="84" r="4.2"/><circle cx="369" cy="98" r="3.8"/><circle cx="335.5" cy="98" r="3.6"/><circle cx="368" cy="62.5" r="3"/></g></g>
<text transform="translate(341.2,106.8) scale(0.95,1)" font-size="9.7" fill="#000" stroke="#000" stroke-width="0.25">N160119</text>
<text x="322" y="64.5" font-size="6" text-anchor="end" fill="#333">-200</text>
<text x="322" y="83.4" font-size="6" text-anchor="end" fill="#333">0</text>
<text x="322" y="102" font-size="6" text-anchor="end" fill="#333">200</text>
<text x="331.5" y="115.5" font-size="6" text-anchor="middle" fill="#333">-200</text>
<text x="352.5" y="115.5" font-size="6" text-anchor="middle" fill="#333">0</text>
<text x="371.5" y="115.5" font-size="6" text-anchor="middle" fill="#333">200</text>
<text x="352.5" y="122.3" font-size="6" text-anchor="middle" fill="#333">Space (µm)</text>
<rect x="423.6" y="71" width="35.7" height="35.6" fill="#0909a2"/>
<circle cx="441.4" cy="88.1" r="15.6" fill="url(#gdd)"/>
<g filter="url(#bl2)"><circle cx="441.4" cy="86.8" r="2.3" fill="#800000"/><circle cx="433.5" cy="89" r="2.6" fill="#ffb000" opacity="0.8"/><circle cx="441.5" cy="96" r="2.4" fill="#ffb000" opacity="0.8"/><circle cx="448.8" cy="90.5" r="2.2" fill="#ffa800" opacity="0.7"/><circle cx="437" cy="80.5" r="2" fill="#ffa000" opacity="0.6"/></g>
<text transform="translate(423.5,104.8) scale(0.985,1)" font-size="9.1" fill="#fff" stroke="#fff" stroke-width="0.3">N160221</text>
<rect x="494.7" y="70.8" width="35.2" height="34.7" fill="#1218ae"/>
<ellipse cx="512.4" cy="88" rx="17" ry="16" fill="url(#gdt0)"/>
<ellipse cx="512.6" cy="88.3" rx="12.2" ry="10.6" fill="url(#gdt)"/>
<text transform="translate(494.6,103.4) scale(0.975,1)" font-size="9.1" fill="#fff" stroke="#fff" stroke-width="0.3">N160313</text>
<rect x="421.0" y="73.0" width="1.3" height="0.9" fill="#aaa"/>
<rect x="425.6" y="107.8" width="0.9" height="1.3" fill="#aaa"/>
<rect x="421.0" y="83.4" width="1.3" height="0.9" fill="#aaa"/>
<rect x="436.1" y="107.8" width="0.9" height="1.3" fill="#aaa"/>
<rect x="421.0" y="93.7" width="1.3" height="0.9" fill="#aaa"/>
<rect x="446.6" y="107.8" width="0.9" height="1.3" fill="#aaa"/>
<rect x="421.0" y="104.1" width="1.3" height="0.9" fill="#aaa"/>
<rect x="457.1" y="107.8" width="0.9" height="1.3" fill="#aaa"/>
<rect x="417.6" y="85.6" width="0.9" height="6" fill="#ccc"/>
<rect x="438.5" y="110.8" width="6" height="0.9" fill="#ccc"/>
<rect x="492.09999999999997" y="72.6" width="1.3" height="0.9" fill="#aaa"/>
<rect x="496.7" y="106.69999999999999" width="0.9" height="1.3" fill="#aaa"/>
<rect x="492.09999999999997" y="82.7" width="1.3" height="0.9" fill="#aaa"/>
<rect x="507.1" y="106.69999999999999" width="0.9" height="1.3" fill="#aaa"/>
<rect x="492.09999999999997" y="92.9" width="1.3" height="0.9" fill="#aaa"/>
<rect x="517.4" y="106.69999999999999" width="0.9" height="1.3" fill="#aaa"/>
<rect x="492.09999999999997" y="103.0" width="1.3" height="0.9" fill="#aaa"/>
<rect x="527.8" y="106.69999999999999" width="0.9" height="1.3" fill="#aaa"/>
<rect x="488.7" y="84.8" width="0.9" height="6" fill="#ccc"/>
<rect x="509.3" y="109.7" width="6" height="0.9" fill="#ccc"/>
<text x="143.8" y="11.5" font-size="10.8" text-anchor="start" font-weight="bold" fill="#000" >keyhole</text>
<text x="143.8" y="24.5" font-size="10.8" text-anchor="start" font-weight="bold" fill="#000" >P0 850 µm</text>
<text x="143.8" y="37.5" font-size="10.8" text-anchor="start" font-weight="bold" fill="#000" >CR 1</text>
<text x="323" y="11.5" font-size="10.8" text-anchor="start" font-weight="bold" fill="#000" >2DconA</text>
<text x="323" y="24.5" font-size="10.8" text-anchor="start" font-weight="bold" fill="#000" >P0 200 µm</text>
<text x="323" y="37.5" font-size="10.8" text-anchor="start" font-weight="bold" fill="#000" >CR 4.2</text>
<text x="412.4" y="11.5" font-size="10.8" text-anchor="start" font-weight="bold" fill="#000" >DD Symcap</text>
<text x="412.4" y="24.5" font-size="10.8" text-anchor="start" font-weight="bold" fill="#000" >P0 72 µm</text>
<text x="412.4" y="37.5" font-size="10.8" text-anchor="start" font-weight="bold" fill="#000" >CR 12</text>
<text x="492.3" y="11.5" font-size="10.8" text-anchor="start" font-weight="bold" fill="#000" >Layered DT</text>
<text x="492.3" y="24.5" font-size="10.8" text-anchor="start" font-weight="bold" fill="#000" >P0 32 µm</text>
<text x="492.3" y="37.5" font-size="10.8" text-anchor="start" font-weight="bold" fill="#000" >CR 27</text>
<text transform="translate(41.1,56.7) scale(0.9,1)" font-size="16.2" text-anchor="end" fill="#000">20</text>
<text transform="translate(41.1,102.6) scale(0.9,1)" font-size="16.2" text-anchor="end" fill="#000">10</text>
<text transform="translate(41.1,148.7) scale(0.9,1)" font-size="16.2" text-anchor="end" fill="#000">0</text>
<text transform="translate(41.1,194.8) scale(0.9,1)" font-size="16.2" text-anchor="end" fill="#000">-10</text>
<text transform="translate(41.1,242.0) scale(0.9,1)" font-size="16.2" text-anchor="end" fill="#000">-20</text>
<text x="40.6" y="129.0" font-size="11.3" text-anchor="end" font-weight="normal" fill="#000" >+3</text>
<text x="40.6" y="163.2" font-size="11.3" text-anchor="end" font-weight="normal" fill="#000" >-3</text>
<text transform="translate(43.9,253.1) scale(0.93,1)" font-size="16.2" text-anchor="middle" fill="#000">2.8</text>
<text transform="translate(118.6,253.1) scale(0.93,1)" font-size="16.2" text-anchor="middle" fill="#000">4.2</text>
<text transform="translate(180.1,253.1) scale(0.93,1)" font-size="16.2" text-anchor="middle" fill="#000">4.4</text>
<text transform="translate(241.2,253.1) scale(0.93,1)" font-size="16.2" text-anchor="middle" fill="#000">4.6</text>
<text transform="translate(294.4,250.8) scale(0.745,1)" font-size="14.5" text-anchor="middle" fill="#000">6.8</text>
<text transform="translate(347.3,250.8) scale(0.745,1)" font-size="14.5" text-anchor="middle" fill="#000">7</text>
<text transform="translate(400.5,250.8) scale(0.745,1)" font-size="14.5" text-anchor="middle" fill="#000">7.2</text>
<text transform="translate(453.4,250.8) scale(0.745,1)" font-size="14.5" text-anchor="middle" fill="#000">7.4</text>
<text transform="translate(506.3,250.8) scale(0.745,1)" font-size="14.5" text-anchor="middle" fill="#000">7.6</text>
<text transform="translate(559.3,250.8) scale(0.745,1)" font-size="14.5" text-anchor="middle" fill="#000">7.8</text>
<text transform="translate(611.5,250.8) scale(0.745,1)" font-size="14.5" text-anchor="middle" fill="#000">8</text>
<text transform="translate(14.6,144.7) rotate(-90)" font-size="15.4" text-anchor="middle" fill="#000" stroke="#000" stroke-width="0.2">P2 (µ m)</text>
<text x="58" y="117.4" font-size="10.8" text-anchor="start" font-weight="normal" fill="#000" >S1 breakout</text>
<text x="104.9" y="184.6" font-size="10.8" text-anchor="start" font-weight="normal" fill="#000" >S12 merger</text>
<text x="189" y="139" font-size="10.8" text-anchor="start" font-weight="normal" fill="#000" >S123 merger</text>
<text x="536" y="68.4" font-size="11" text-anchor="start" font-weight="normal" fill="#000" >N160313:</text>
<text x="536" y="81.7" font-size="11" text-anchor="start" font-weight="normal" fill="#000" >Y=2.6e15</text>
<text x="536" y="95.3" font-size="11" text-anchor="start" font-weight="normal" fill="#000" >Tion = 3.8 keV</text>
<text x="536" y="107.6" font-size="11" text-anchor="start" font-weight="normal" fill="#000" >dsr = 2.9 %</text>
<text x="536" y="121.0" font-size="11" text-anchor="start" font-weight="normal" fill="#000" >YOC ~ 45%</text>
</svg>
</body></html>
